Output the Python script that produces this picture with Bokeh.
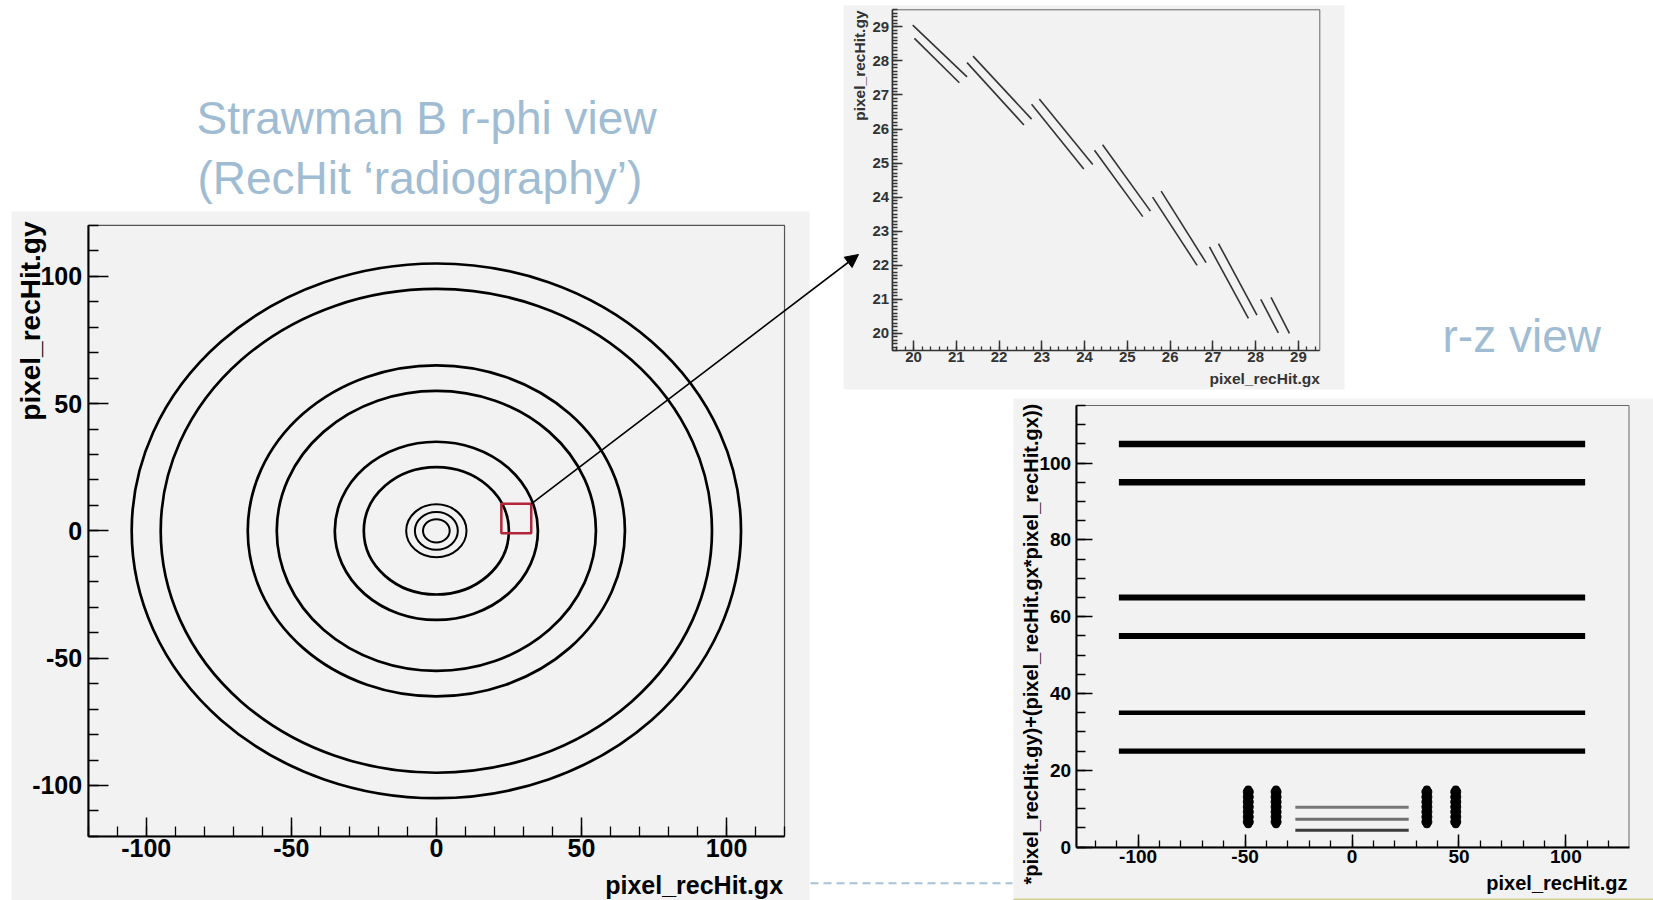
import math
from bokeh.plotting import figure
from bokeh.models import (Range1d, LinearAxis, SingleIntervalTicker, Arrow, NormalHead,
                          PrintfTickFormatter)
from bokeh.core.properties import value
from bokeh.embed import file_html
from bokeh.resources import INLINE

# ---------------- data ----------------
# r-phi view: radii of the hit rings (cm)
ring_radii = [4.6, 7.4, 10.4, 25.0, 35.0, 55.0, 65.0, 95.0, 105.0]
ring_widths = [2.0, 2.0, 2.0, 2.7, 2.7, 2.7, 2.7, 2.7, 2.7]
# zoomed region marker (red square) in r-phi data coordinates
box_x = [22.4, 32.7]
box_y = [-0.9, 10.6]

# zoomed inset: paired hit segments
seg_x0 = [19.98, 20.02, 21.39, 21.25, 22.94, 22.76, 24.42, 24.23, 25.79, 25.59, 27.13, 26.92, 28.36, 28.12]
seg_y0 = [29.05, 28.66, 28.14, 27.95, 26.88, 26.73, 25.54, 25.38, 24.18, 24.00, 22.64, 22.54, 21.06, 21.00]
seg_x1 = [21.25, 21.07, 22.76, 22.58, 24.19, 23.98, 25.54, 25.36, 26.84, 26.63, 28.03, 27.83, 28.79, 28.53]
seg_y1 = [27.53, 27.36, 26.29, 26.12, 24.96, 24.83, 23.59, 23.43, 22.08, 22.00, 20.54, 20.44, 20.00, 20.02]

# r-z view
barrel_r = [25.0, 35.0, 55.0, 65.0, 95.0, 105.0]
barrel_z = [-109.0, 109.0]
barrel_widths = [5.3, 4.4, 6.0, 6.0, 6.5, 6.5]
pixel_r = [4.4, 7.3, 10.4]
pixel_z = [-26.5, 26.5]
pixel_colors = ["#3c3c3c", "#6f6f6f", "#777777"]
disk_z = [-48.5, -35.5, 35.0, 48.5]
disk_r = [6.0, 15.0]
disk_blob_r = [6.6, 7.9, 9.2, 10.5, 11.8, 13.1, 14.4]

title_lines = ["Strawman B r-phi view", "(RecHit \u2018radiography\u2019)"]
rz_title = "r-z view"

# ---------------- layout (reference pixel space 1653 x 900) ----------------
REF_W, REF_H = 1653.0, 900.0
LEFT = dict(x=(-120, 120), y=(-120, 120), px=(87.67, 784.03), py=(835.9, 224.8))
INSET = dict(x=(19.5, 29.5), y=(19.5, 29.5), px=(891.7, 1319.3), py=(350.0, 9.3))
RZ = dict(x=(-129.0, 129.5), y=(0.0, 115.0), px=(1075.6, 1628.5), py=(846.7, 405.0))


def xr(b):
    (d0, d1), (p0, p1) = b["x"], b["px"]
    s = (d1 - d0) / (p1 - p0)
    return Range1d(d0 - p0 * s, d0 + (REF_W - p0) * s)


def yr(b):
    (d0, d1), (pb, pt) = b["y"], b["py"]
    s = (d1 - d0) / (pb - pt)
    return Range1d(d0 - (REF_H - pb) * s, d1 + pt * s)


def to_ref(b, dx, dy):
    (x0, x1), (p0, p1) = b["x"], b["px"]
    (y0, y1), (pb, pt) = b["y"], b["py"]
    return (p0 + (dx - x0) * (p1 - p0) / (x1 - x0),
            pb + (dy - y0) * (pt - pb) / (y1 - y0))


p = figure(width=1653, height=900,
           x_range=Range1d(0, REF_W), y_range=Range1d(REF_H, 0),
           x_axis_type=None, y_axis_type=None,
           toolbar_location=None, output_backend="svg",
           min_border=0, outline_line_color=None,
           background_fill_color="white", border_fill_color="white")
p.extra_x_ranges = {"lx": xr(LEFT), "ix": xr(INSET), "rx": xr(RZ)}
p.extra_y_ranges = {"ly": yr(LEFT), "iy": yr(INSET), "ry": yr(RZ)}

PANEL = "#f2f2f2"
# canvas pads (ROOT grey)
p.quad(left=[11, 843, 1013], right=[809, 1344, 1653],
       top=[211, 5, 398], bottom=[900, 389, 900],
       fill_color=PANEL, line_color=None)
p.segment(x0=[1013], y0=[899], x1=[1653], y1=[899], line_color="#cfd08a", line_width=2)

FONT = value("Liberation Sans")

# ---------------- titles ----------------
p.text(x=[196.0, 197.0], y=[117.0, 177.0], text=title_lines,
       text_font=FONT, text_font_size="46px", text_color="#a0bcd3",
       text_align="left", text_baseline="middle")
p.text(x=[1442], y=[335], text=[rz_title],
       text_font=FONT, text_font_size="46px", text_color="#a0bcd3",
       text_align="left", text_baseline="middle")

# ---------------- left: r-phi view ----------------
p.quad(left=[LEFT["x"][0]], right=[LEFT["x"][1]], bottom=[LEFT["y"][0]], top=[LEFT["y"][1]],
       fill_color=None, line_color="#555555", line_width=1.2,
       x_range_name="lx", y_range_name="ly")
p.ellipse(x=[0.0] * len(ring_radii), y=[0.0] * len(ring_radii),
          width=[2 * r for r in ring_radii], height=[2 * r for r in ring_radii],
          fill_color=None, line_color="black", line_width=ring_widths,
          x_range_name="lx", y_range_name="ly")
p.quad(left=[box_x[0]], right=[box_x[1]], bottom=[box_y[0]], top=[box_y[1]],
       fill_color=None, line_color="#b3263a", line_width=2.5,
       x_range_name="lx", y_range_name="ly")

# ---------------- inset ----------------
p.quad(left=[INSET["x"][0]], right=[INSET["x"][1]], bottom=[INSET["y"][0]], top=[INSET["y"][1]],
       fill_color=None, line_color="#666666", line_width=1.0,
       x_range_name="ix", y_range_name="iy")
p.segment(x0=seg_x0, y0=seg_y0, x1=seg_x1, y1=seg_y1,
          line_color="#333333", line_width=1.6,
          x_range_name="ix", y_range_name="iy")

# ---------------- r-z view ----------------
p.quad(left=[RZ["x"][0]], right=[RZ["x"][1]], bottom=[RZ["y"][0]], top=[RZ["y"][1]],
       fill_color=None, line_color="#666666", line_width=1.0,
       x_range_name="rx", y_range_name="ry")
p.segment(x0=[barrel_z[0]] * len(barrel_r), y0=barrel_r,
          x1=[barrel_z[1]] * len(barrel_r), y1=barrel_r,
          line_color="black", line_width=barrel_widths,
          x_range_name="rx", y_range_name="ry")
p.segment(x0=[pixel_z[0]] * len(pixel_r), y0=pixel_r,
          x1=[pixel_z[1]] * len(pixel_r), y1=pixel_r,
          line_color=pixel_colors, line_width=3,
          x_range_name="rx", y_range_name="ry")
p.segment(x0=disk_z, y0=[disk_r[0]] * len(disk_z), x1=disk_z, y1=[disk_r[1]] * len(disk_z),
          line_color="black", line_width=8, line_cap="round",
          x_range_name="rx", y_range_name="ry")
bx = [z for z in disk_z for _ in disk_blob_r]
by = [r for _ in disk_z for r in disk_blob_r]
p.scatter(x=bx, y=by, size=10, marker="circle", color="black",
          x_range_name="rx", y_range_name="ry")


# ---------------- axes ----------------
def add_axis(side, rname, loc, bounds, interval, nminor, tin, minin, fsize, color, lw, standoff):
    if side == "below":
        ax = LinearAxis(x_range_name=rname, fixed_location=loc, bounds=bounds)
    else:
        ax = LinearAxis(y_range_name=rname, fixed_location=loc, bounds=bounds)
    ax.ticker = SingleIntervalTicker(interval=interval, num_minor_ticks=nminor)
    ax.formatter = PrintfTickFormatter(format="%d")
    ax.major_tick_in = tin
    ax.major_tick_out = 0
    ax.minor_tick_in = minin
    ax.minor_tick_out = 0
    ax.axis_line_color = color
    ax.axis_line_width = lw
    ax.major_tick_line_color = color
    ax.minor_tick_line_color = color
    ax.major_tick_line_width = 1.5
    ax.minor_tick_line_width = 1.3
    ax.major_label_text_font = "Liberation Sans"
    ax.major_label_text_font_style = "bold"
    ax.major_label_text_font_size = fsize
    ax.major_label_text_color = color
    ax.major_label_standoff = standoff
    p.add_layout(ax, side)


add_axis("below", "lx", LEFT["py"][0], LEFT["x"], 50, 5, 19, 10, "25px", "black", 2, 3)
add_axis("left", "ly", LEFT["px"][0], LEFT["y"], 50, 5, 20, 10, "25px", "black", 2, 6)
add_axis("below", "ix", INSET["py"][0], INSET["x"], 1, 5, 10, 4, "15px", "#333333", 1.5, 1)
add_axis("left", "iy", INSET["px"][0], INSET["y"], 1, 10, 10, 5, "15px", "#333333", 1.5, 3)
add_axis("below", "rx", RZ["py"][0], RZ["x"], 50, 5, 13, 7, "19px", "black", 2, 3)
add_axis("left", "ry", RZ["px"][0], RZ["y"], 20, 4, 16, 9, "19px", "black", 2, 5)

# axis titles (ROOT style: aligned to the axis end)
p.text(x=[LEFT["px"][1] - 1.5], y=[884.5], text=["pixel_recHit.gx"],
       text_font=FONT, text_font_style="bold", text_font_size="25px",
       text_align="right", text_baseline="middle", text_color="black")
p.text(x=[30], y=[221], text=["pixel_recHit.gy"], angle=math.pi / 2,
       text_font=FONT, text_font_style="bold", text_font_size="28px",
       text_align="right", text_baseline="middle", text_color="black")
p.text(x=[INSET["px"][1]], y=[378.3], text=["pixel_recHit.gx"],
       text_font=FONT, text_font_style="bold", text_font_size="15.5px",
       text_align="right", text_baseline="middle", text_color="#333333")
p.text(x=[859.3], y=[10], text=["pixel_recHit.gy"], angle=math.pi / 2,
       text_font=FONT, text_font_style="bold", text_font_size="15.5px",
       text_align="right", text_baseline="middle", text_color="#333333")
p.text(x=[RZ["px"][1] - 1.5], y=[882.7], text=["pixel_recHit.gz"],
       text_font=FONT, text_font_style="bold", text_font_size="20px",
       text_align="right", text_baseline="middle", text_color="black")
p.text(x=[1030], y=[403.3], text=["*pixel_recHit.gy)+(pixel_recHit.gx*pixel_recHit.gx))"],
       angle=math.pi / 2,
       text_font=FONT, text_font_style="bold", text_font_size="20px",
       text_align="right", text_baseline="middle", text_color="black")

# ---------------- connectors ----------------
sx, sy = to_ref(LEFT, box_x[1], box_y[1])
p.add_layout(Arrow(end=NormalHead(size=13, fill_color="black", line_color="black"),
                   x_start=sx, y_start=sy, x_end=858, y_end=254,
                   line_color="black", line_width=1.6))
p.segment(x0=[810], y0=[882.7], x1=[1012], y1=[882.7],
          line_color="#a7c1d9", line_width=2, line_dash="8 5")

open("out.html", "w").write(file_html(p, INLINE))
